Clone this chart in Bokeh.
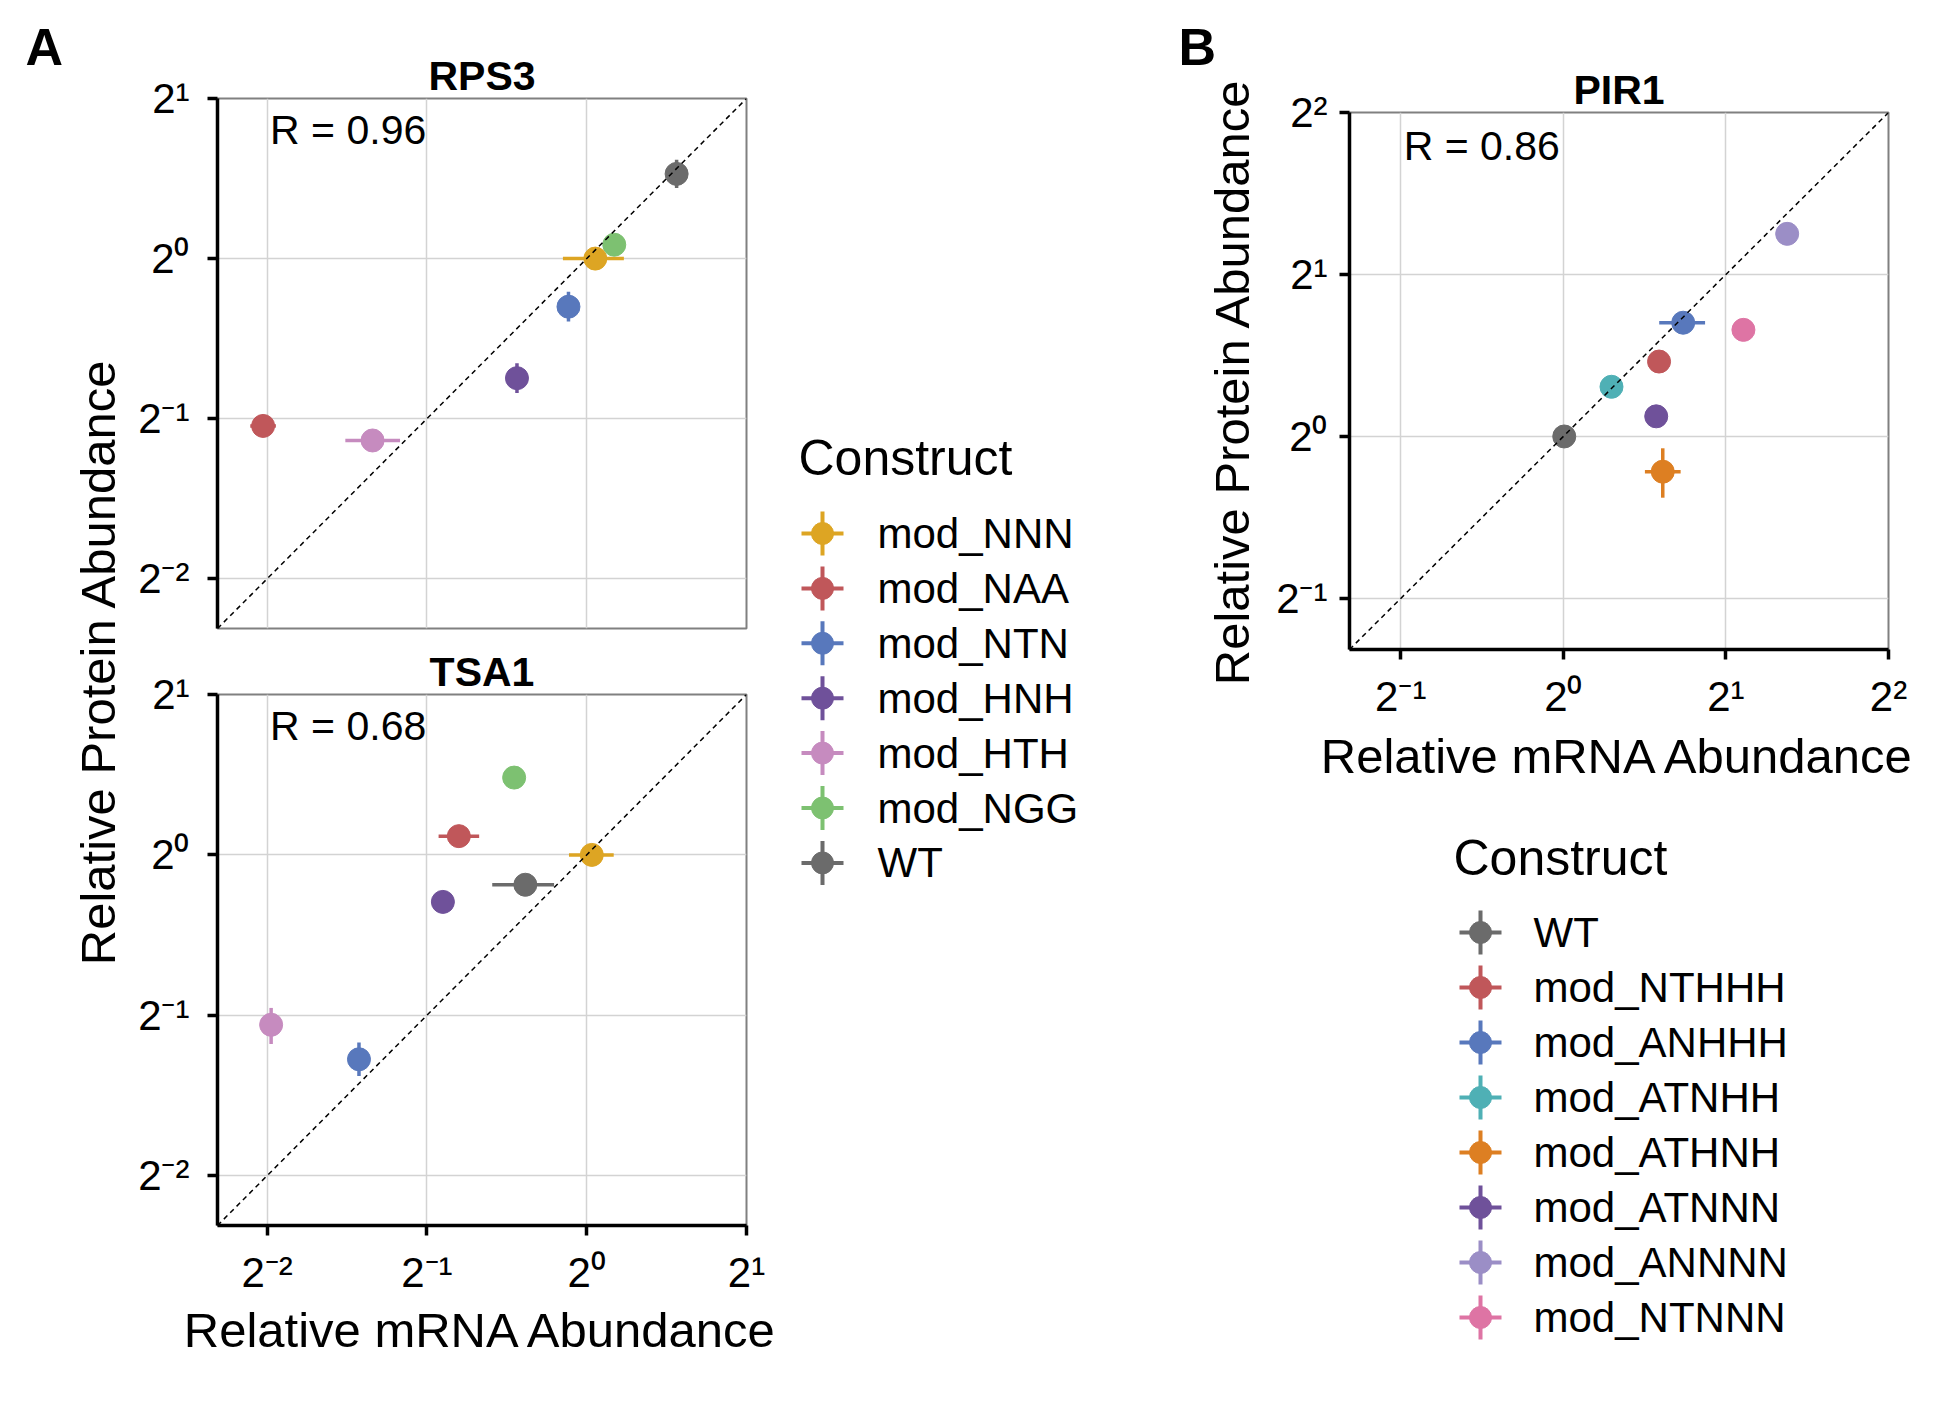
import numpy as np
from bokeh.plotting import figure
from bokeh.layouts import row, column
from bokeh.models import Range1d, FixedTicker, Slope, Label
from bokeh.embed import file_html
from bokeh.resources import INLINE
from bokeh.core.properties import value

FONT = "Liberation Sans"

# ---------------- data (relative abundances) ----------------
# Panel A constructs (RPS3 and TSA1)
a_constructs = ["mod_NNN", "mod_NAA", "mod_NTN", "mod_HNH", "mod_HTH", "mod_NGG", "WT"]
a_colors = ["#DDA523", "#C0575A", "#5878BC", "#6F519A", "#C68BBF", "#7DC171", "#6B6B6B"]

rps3_mrna    = [1.038, 0.2457, 0.924, 0.739, 0.395, 1.127, 1.477]
rps3_mrna_lo = [0.902, 0.2324, 0.924, 0.739, 0.351, 1.127, 1.477]
rps3_mrna_hi = [1.175, 0.2597, 0.924, 0.739, 0.445, 1.127, 1.477]
rps3_prot    = [1.000, 0.4846, 0.812, 0.596, 0.455, 1.062, 1.443]
rps3_prot_lo = [1.000, 0.4746, 0.762, 0.559, 0.455, 1.062, 1.358]
rps3_prot_hi = [1.000, 0.4948, 0.866, 0.636, 0.455, 1.062, 1.534]
rps3_r = "R = 0.96"

tsa1_mrna    = [1.0224, 0.5743, 0.3724, 0.5359, 0.2544, 0.7300, 0.7663]
tsa1_mrna_lo = [0.9260, 0.5260, 0.3724, 0.5359, 0.2544, 0.7300, 0.6638]
tsa1_mrna_hi = [1.1243, 0.6272, 0.3724, 0.5359, 0.2544, 0.7300, 0.8681]
tsa1_prot    = [1.000, 1.0845, 0.4135, 0.8162, 0.4800, 1.3967, 0.8790]
tsa1_prot_lo = [1.000, 1.0845, 0.3845, 0.8162, 0.4417, 1.3967, 0.8790]
tsa1_prot_hi = [1.000, 1.0845, 0.4447, 0.8162, 0.5162, 1.3967, 0.8790]
tsa1_r = "R = 0.68"

# Panel B constructs (PIR1)
b_constructs = ["WT", "mod_NTHHH", "mod_ANHHH", "mod_ATNHH", "mod_ATHNH", "mod_ATNNN", "mod_ANNNN", "mod_NTNNN"]
b_colors = ["#6B6B6B", "#C0575A", "#5878BC", "#4FB0B5", "#DD7F22", "#6F519A", "#9B8EC6", "#DE74A4"]

pir1_mrna    = [1.004, 1.504, 1.667, 1.228, 1.528, 1.486, 2.597, 2.155]
pir1_mrna_lo = [0.963, 1.504, 1.505, 1.186, 1.416, 1.435, 2.597, 2.155]
pir1_mrna_hi = [1.047, 1.504, 1.830, 1.271, 1.649, 1.538, 2.597, 2.155]
pir1_prot    = [1.000, 1.378, 1.627, 1.237, 0.860, 1.090, 2.380, 1.578]
pir1_prot_lo = [1.000, 1.378, 1.627, 1.237, 0.7695, 1.090, 2.380, 1.578]
pir1_prot_hi = [1.000, 1.378, 1.627, 1.237, 0.9507, 1.090, 2.380, 1.578]
pir1_r = "R = 0.86"

a_ticks = [0.25, 0.5, 1.0, 2.0]
a_tick_labels = ["2\u207b\u00b2", "2\u207b\u00b9", "2\u2070", "2\u00b9"]
b_ticks = [0.5, 1.0, 2.0, 4.0]
b_tick_labels = ["2\u207b\u00b9", "2\u2070", "2\u00b9", "2\u00b2"]

x_title = "Relative mRNA Abundance"
y_title = "Relative Protein Abundance"
legend_title = "Construct"


def panel(title, xs, xlo, xhi, ys, ylo, yhi, colors, rng, ticks, labels,
          width, height, mb, show_x, rtext, rx, ry, y_standoff, xl_standoff):
    p = figure(width=width, height=height, x_axis_type="log", y_axis_type="log",
               x_range=Range1d(*rng), y_range=Range1d(*rng),
               output_backend="svg", toolbar_location=None,
               min_border_left=mb[0], min_border_right=mb[1],
               min_border_top=mb[2], min_border_bottom=mb[3],
               background_fill_color="white", border_fill_color="white")
    p.title.text = title
    p.title.align = "center"
    p.title.text_font = FONT
    p.title.text_font_size = "41px"
    p.title.text_font_style = "bold"
    p.title.text_color = "black"
    p.title.standoff = 0
    p.outline_line_color = "#808080"
    p.outline_line_width = 2

    for ax, grid in ((p.xaxis, p.xgrid), (p.yaxis, p.ygrid)):
        ax.ticker = FixedTicker(ticks=ticks)
        grid.ticker = FixedTicker(ticks=ticks)
        ax.major_label_overrides = {t: l for t, l in zip(ticks, labels)}
        ax.axis_line_color = "black"
        ax.axis_line_width = 3.5
        ax.major_tick_line_color = "black"
        ax.major_tick_line_width = 3.5
        ax.major_tick_out = 10
        ax.major_tick_in = 0
        ax.minor_tick_line_color = None
        ax.major_label_text_font = FONT
        ax.major_label_text_font_size = "42px"
        ax.major_label_text_color = "black"
        grid.grid_line_color = "#d3d3d3"
        grid.grid_line_width = 1.5
    p.yaxis.major_label_standoff = y_standoff
    p.xaxis.major_label_standoff = 13
    if show_x:
        p.xaxis.axis_label = x_title
        p.xaxis.axis_label_text_font = FONT
        p.xaxis.axis_label_text_font_size = "49px"
        p.xaxis.axis_label_text_font_style = "normal"
        p.xaxis.axis_label_text_color = "black"
        p.xaxis.axis_label_standoff = xl_standoff
    else:
        p.xaxis.visible = False

    p.add_layout(Slope(gradient=1, y_intercept=0, line_color="black",
                       line_width=1.5, line_dash="5 4"))

    p.segment(x0=xlo, x1=xhi, y0=ys, y1=ys, line_color=colors, line_width=3.5)
    p.segment(x0=xs, x1=xs, y0=ylo, y1=yhi, line_color=colors, line_width=3.5)
    order = list(range(len(xs)))[::-1]
    p.scatter(x=[xs[i] for i in order], y=[ys[i] for i in order], size=23,
              marker="circle", fill_color=[colors[i] for i in order],
              line_color=[colors[i] for i in order])

    p.add_layout(Label(x=rx, y=ry, text=rtext, text_font=FONT, text_font_size="41px",
                       text_baseline="middle", text_align="left", x_offset=3,
                       text_color="black"))
    return p


def canvas_fig(w, h, left=0, right=0):
    # frame spans canvas x in [left, w - right]; data x equals canvas x
    p = figure(width=w, height=h, x_range=Range1d(left, w - right), y_range=Range1d(0, h),
               output_backend="svg", toolbar_location=None,
               min_border_left=left, min_border_right=right,
               min_border_top=0, min_border_bottom=0,
               x_axis_location=None, y_axis_location=None,
               background_fill_color="white", border_fill_color="white")
    p.outline_line_color = None
    p.grid.visible = False
    return p


def draw_legend(p, h, names, colors, tx, ty, gx, gy0, dy, lx):
    ys = [h - (gy0 + dy * i) for i in range(len(names))]
    gxs = [gx] * len(names)
    p.text(x=[tx], y=[h - ty], text=[legend_title], text_font=value(FONT),
           text_font_size="50px", text_baseline="middle", text_align="left", text_color="black")
    p.segment(x0=[gx - 21] * len(names), x1=[gx + 21] * len(names), y0=ys, y1=ys,
              line_color=colors, line_width=4)
    p.segment(x0=gxs, x1=gxs, y0=[y - 22 for y in ys], y1=[y + 22 for y in ys],
              line_color=colors, line_width=4)
    p.scatter(x=gxs, y=ys, size=22, marker="circle", fill_color=colors, line_color=colors)
    p.text(x=[lx] * len(names), y=ys, text=names, text_font=value(FONT),
           text_font_size="42px", text_baseline="middle", text_align="left", text_color="black")


A_RANGE = (0.2016, 2.0)
B_RANGE = (0.4019, 4.0)

p_rps3 = panel("RPS3", rps3_mrna, rps3_mrna_lo, rps3_mrna_hi, rps3_prot, rps3_prot_lo, rps3_prot_hi,
               a_colors, A_RANGE, a_ticks, a_tick_labels, 657, 640, (84, 44, 98, 12), False,
               rps3_r, 0.25, 1.742, 18, 4)
p_tsa1 = panel("TSA1", tsa1_mrna, tsa1_mrna_lo, tsa1_mrna_hi, tsa1_prot, tsa1_prot_lo, tsa1_prot_hi,
               a_colors, A_RANGE, a_ticks, a_tick_labels, 657, 730, (84, 44, 54, 145), True,
               tsa1_r, 0.25, 1.742, 18, 4)
p_pir1 = panel("PIR1", pir1_mrna, pir1_mrna_lo, pir1_mrna_hi, pir1_prot, pir1_prot_lo, pir1_prot_hi,
               b_colors, B_RANGE, b_ticks, b_tick_labels, 678, 790, (87, 52, 112, 141), True,
               pir1_r, 0.5, 3.468, 12, 6)

# left strip: panel letter A and the shared y title of panel A
H_LEFT = 1370
left = canvas_fig(133, H_LEFT)
left.text(x=[25], y=[H_LEFT - 46], text=["A"], text_font=value(FONT), text_font_size="52px",
          text_font_style="bold", text_baseline="middle", text_align="left", text_color="black")
left.text(x=[97], y=[H_LEFT - 661], text=[y_title], text_font=value(FONT), text_font_size="49px",
          angle=np.pi / 2, text_baseline="middle", text_align="center", text_color="black")

# middle strip: legend of panel A, letter B and y title of panel B
H_MID = 1370
mid = canvas_fig(472, H_MID)
draw_legend(mid, H_MID, a_constructs, a_colors, 8, 457, 32, 533, 54.9, 87)
mid.text(x=[388], y=[H_MID - 46], text=["B"], text_font=value(FONT), text_font_size="52px",
         text_font_style="bold", text_baseline="middle", text_align="left", text_color="black")
mid.text(x=[441], y=[H_MID - 381], text=[y_title], text_font=value(FONT), text_font_size="49px",
         angle=np.pi / 2, text_baseline="middle", text_align="center", text_color="black")

# legend of panel B (its frame is aligned with the PIR1 frame by the column layout)
H_LEGB = 610
legb = canvas_fig(678, H_LEGB, left=87, right=52)
draw_legend(legb, H_LEGB, b_constructs, b_colors, 191, 67, 218, 142, 55.0, 271)

layout = row(left, column(p_rps3, p_tsa1), mid, column(p_pir1, legb))

open("out.html", "w").write(file_html(layout, INLINE))
